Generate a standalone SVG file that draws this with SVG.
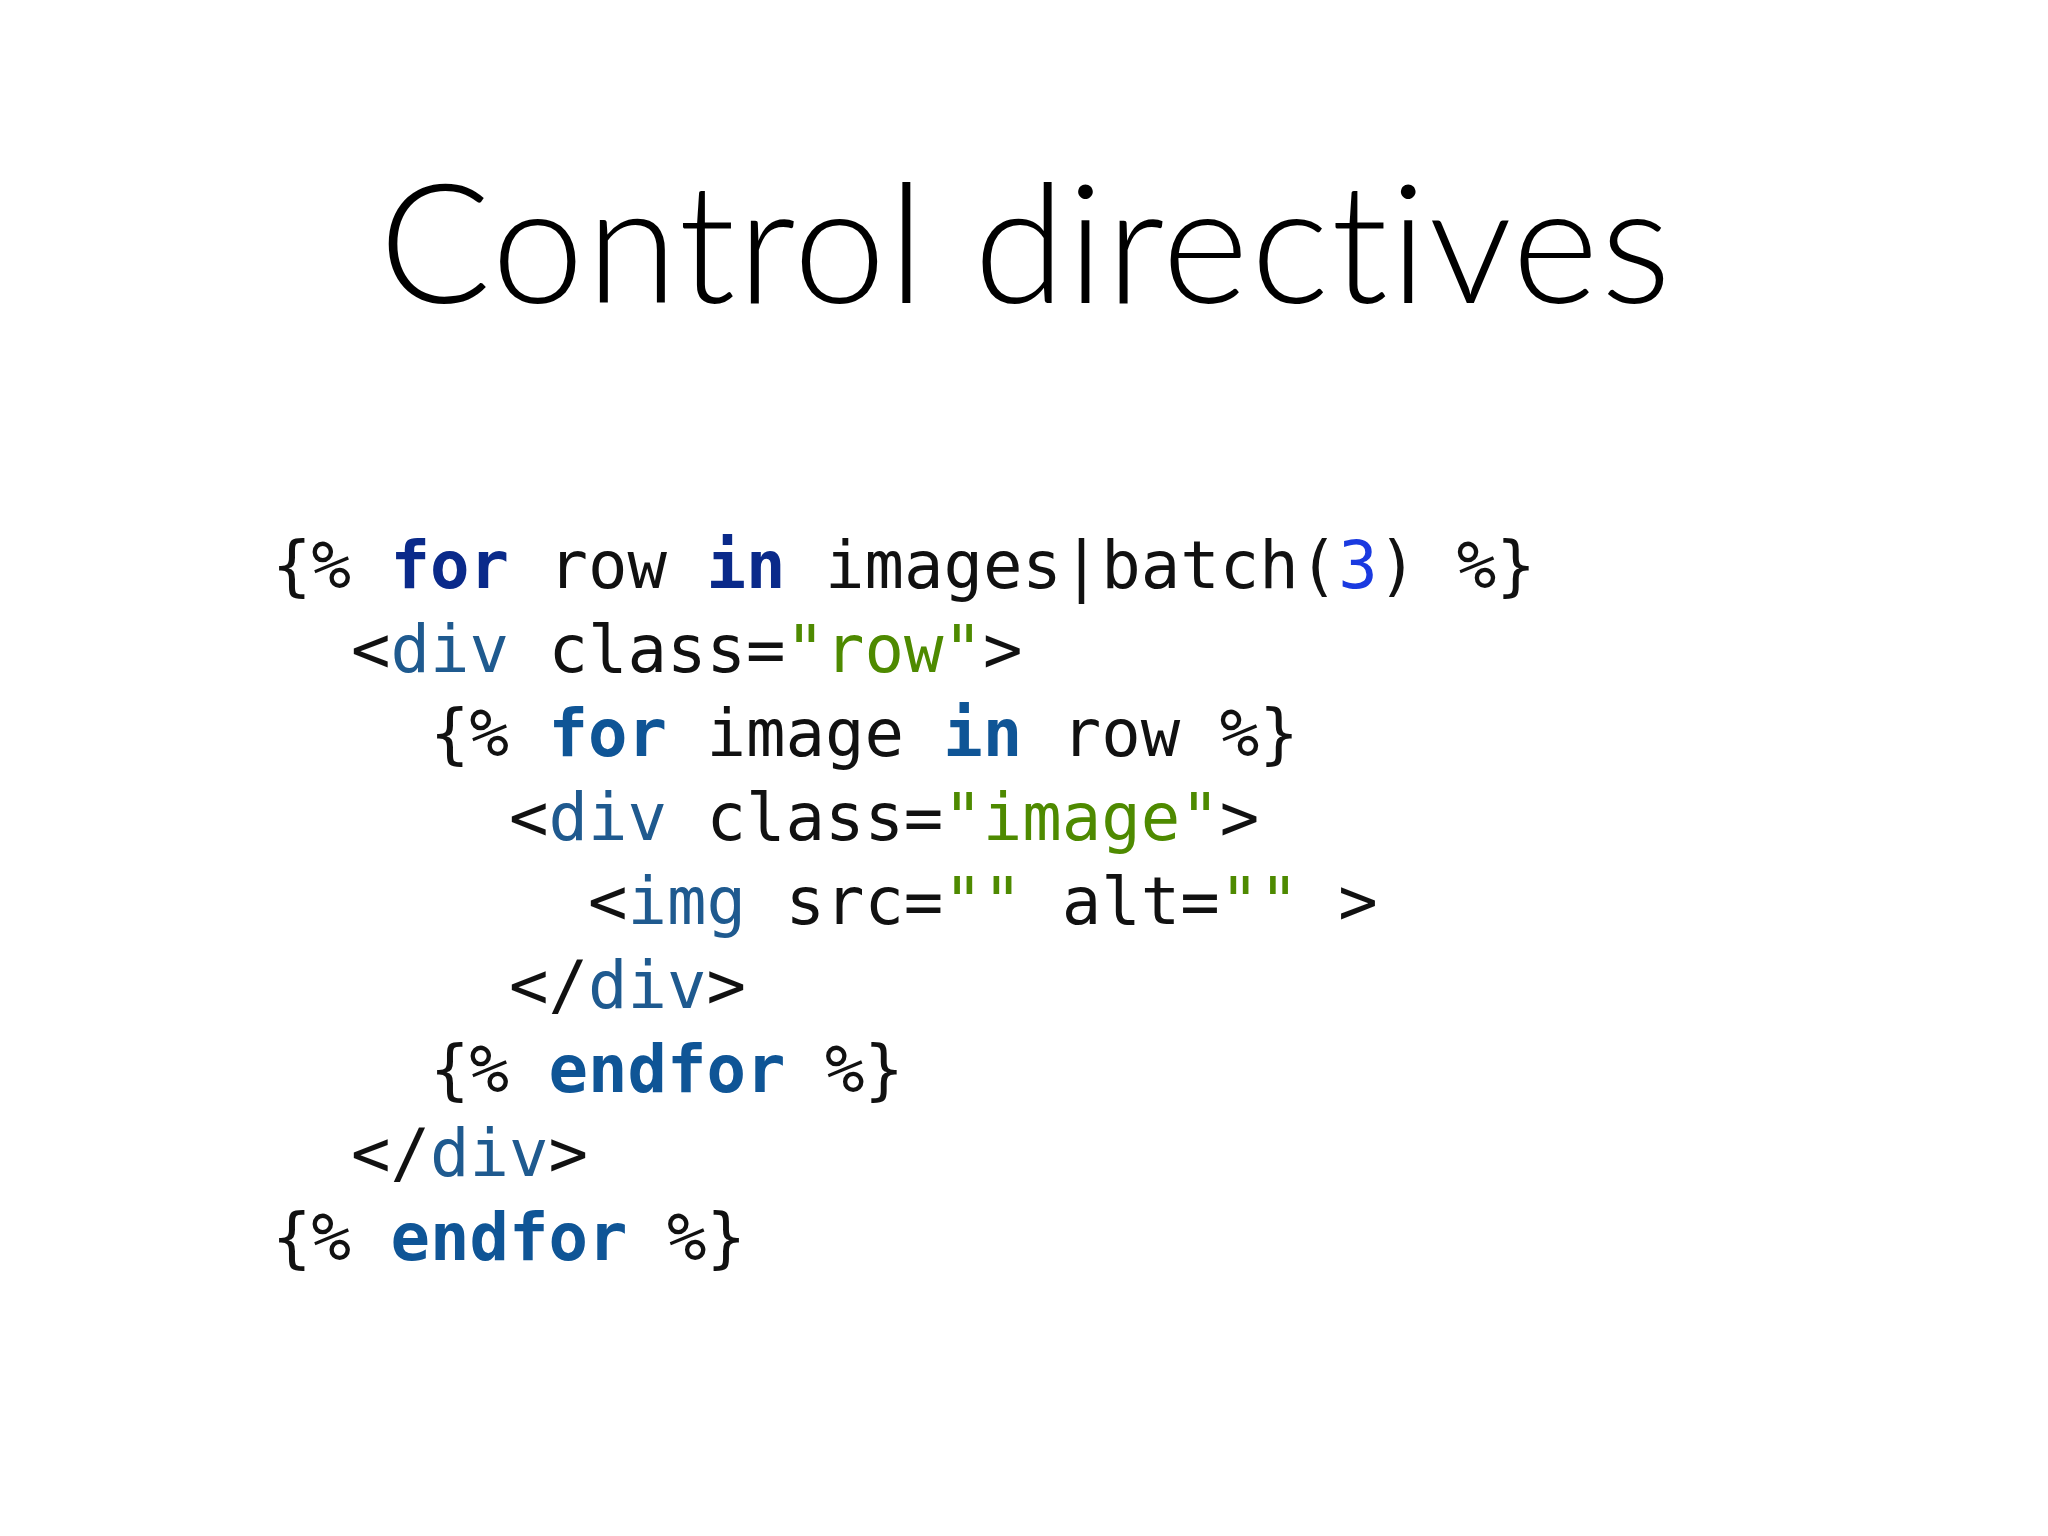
<svg xmlns="http://www.w3.org/2000/svg" width="2048" height="1536" viewBox="0 0 2048 1536">
<style>
.c{font-family:"DejaVu Sans Mono","Liberation Mono",monospace;font-size:65.6px;fill:#111;white-space:pre}
.k{fill:#0f5596;font-weight:bold}
.k1{fill:#0a2a8a;font-weight:bold}
.t{fill:#1f5a8f}
.s{fill:#4e8a00}
.n{fill:#1a3ae0}
</style>
<rect width="2048" height="1536" fill="#fff"/>
<text x="1026" y="303" text-anchor="middle" font-family="Lato,'Open Sans',sans-serif" font-weight="300" font-size="166" letter-spacing="2" style="font-variant-ligatures:none" fill="#000">Control directives</text>
<g id="code" class="c" xml:space="preserve">
<text class="c" x="272" y="588">{% <tspan class="k1">for</tspan> row <tspan class="k1">in</tspan> images|batch(<tspan class="n">3</tspan>) %}</text>
<text class="c" x="272" y="672">  &lt;<tspan class="t">div</tspan> class=<tspan class="s">"row"</tspan>&gt;</text>
<text class="c" x="272" y="756">    {% <tspan class="k">for</tspan> image <tspan class="k">in</tspan> row %}</text>
<text class="c" x="272" y="840">      &lt;<tspan class="t">div</tspan> class=<tspan class="s">"image"</tspan>&gt;</text>
<text class="c" x="272" y="924">        &lt;<tspan class="t">img</tspan> src=<tspan class="s">""</tspan> alt=<tspan class="s">""</tspan> &gt;</text>
<text class="c" x="272" y="1008">      &lt;/<tspan class="t">div</tspan>&gt;</text>
<text class="c" x="272" y="1092">    {% <tspan class="k">endfor</tspan> %}</text>
<text class="c" x="272" y="1176">  &lt;/<tspan class="t">div</tspan>&gt;</text>
<text class="c" x="272" y="1260">{% <tspan class="k">endfor</tspan> %}</text>
</g>
</svg>
